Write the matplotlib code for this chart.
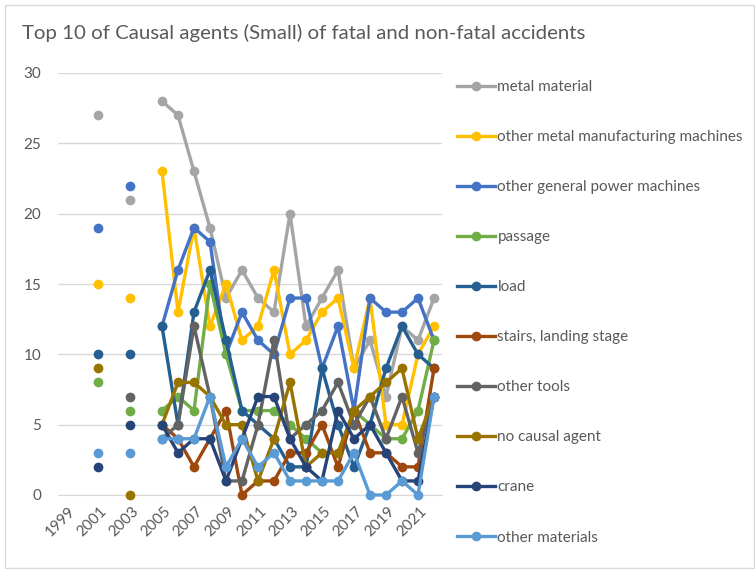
import numpy as np
import matplotlib
matplotlib.use("Agg")
import matplotlib.pyplot as plt
from matplotlib.patches import Rectangle
from matplotlib.transforms import ScaledTranslation

plt.rcParams['font.family'] = ['Lato', 'DejaVu Sans']

nan = np.nan
years = list(range(1999, 2023))
tick_years = list(range(1999, 2022, 2))

series_names = [
    "metal material",
    "other metal manufacturing machines",
    "other general power machines",
    "passage",
    "load",
    "stairs, landing stage",
    "other tools",
    "no causal agent",
    "crane",
    "other materials",
]
colors = ["#A5A5A5", "#FFC000", "#4472C4", "#70AD47", "#255E91",
          "#9E480E", "#636363", "#997300", "#264478", "#5B9BD5"]

#            1999 2000 2001 2002 2003 2004 2005 06 07 08 09 10 11 12 13 14 15 16 17 18 19 20 21 22
metal_material = [nan, nan, 27, nan, 21, nan, 28, 27, 23, 19, 14, 16, 14, 13, 20, 12, 14, 16, 9, 11, 7, 12, 11, 14]
other_metal_machines = [nan, nan, 15, nan, 14, nan, 23, 13, 19, 12, 15, 11, 12, 16, 10, 11, 13, 14, 9, 14, 5, 5, 10, 12]
other_power_machines = [nan, nan, 19, nan, 22, nan, 12, 16, 19, 18, 10, 13, 11, 10, 14, 14, 9, 12, 6, 14, 13, 13, 14, 11]
passage = [nan, nan, 8, nan, 6, nan, 6, 7, 6, 15, 10, 6, 6, 6, 5, 4, 3, 3, 6, 5, 4, 4, 6, 11]
load = [nan, nan, 10, nan, 10, nan, 12, 5, 13, 16, 11, 6, 5, 4, 2, 2, 9, 5, 2, 5, 9, 12, 10, 9]
stairs = [nan, nan, nan, nan, nan, nan, 5, 4, 2, 4, 6, 0, 1, 1, 3, 3, 5, 2, 6, 3, 3, 2, 2, 9]
other_tools = [nan, nan, nan, nan, 7, nan, 4, 5, 12, 7, 1, 1, 5, 11, 4, 5, 6, 8, 5, 7, 4, 7, 3, 7]
no_causal_agent = [nan, nan, 9, nan, 0, nan, 5, 8, 8, 7, 5, 5, 1, 4, 8, 2, 3, 3, 6, 7, 8, 9, 4, 7]
crane = [nan, nan, 2, nan, 5, nan, 5, 3, 4, 4, 1, 4, 7, 7, 4, 2, 1, 6, 4, 5, 3, 1, 1, 7]
other_materials = [nan, nan, 3, nan, 3, nan, 4, 4, 4, 7, 2, 4, 2, 3, 1, 1, 1, 1, 3, 0, 0, 1, 0, 7]

all_series = [metal_material, other_metal_machines, other_power_machines, passage, load,
              stairs, other_tools, no_causal_agent, crane, other_materials]

W, H = 755, 569
fig = plt.figure(figsize=(W / 100, H / 100), dpi=100)
fig.patch.set_facecolor("white")
fig.patches.append(Rectangle((5 / W, 1 / H), (W - 6) / W, (H - 6) / H, transform=fig.transFigure,
                             fill=False, edgecolor="#D9D9D9", linewidth=1))

ax = fig.add_axes([58 / W, 1 - 495 / H, (442 - 58) / W, (495 - 73) / H])
x = np.arange(len(years))
handles = []
for i, (name, vals, c) in enumerate(zip(series_names, all_series, colors)):
    h, = ax.plot(x, np.array(vals, dtype=float), color=c, lw=2.4, marker='o', markersize=7,
                 markeredgewidth=0, label=name, zorder=3 + i, clip_on=False)
    handles.append(h)

ax.set_xlim(-0.5, len(years) - 0.5)
ax.set_ylim(0, 30)
ax.set_yticks(range(0, 31, 5))
ax.set_xticks([years.index(y) for y in tick_years])
ax.set_xticklabels([str(y) for y in tick_years], rotation=45, ha='right', va='center',
                   rotation_mode='anchor')
ax.tick_params(axis='x', length=0, pad=10, labelsize=11, labelcolor="#595959")
ax.tick_params(axis='y', length=0, pad=12, labelsize=11, labelcolor="#595959")
offset = ScaledTranslation(7 / 100, 0, fig.dpi_scale_trans)
for lbl in ax.get_xticklabels():
    lbl.set_transform(lbl.get_transform() + offset)
ax.grid(axis='y', color="#D9D9D9", lw=1)
ax.set_axisbelow(True)
for s in ["top", "right", "left"]:
    ax.spines[s].set_visible(False)
ax.spines["bottom"].set_color("#D9D9D9")
ax.spines["bottom"].set_zorder(1)

fig.text(22 / W, 1 - 33 / H, "Top 10 of Causal agents (Small) of fatal and non-fatal accidents",
         fontsize=14.7, color="#595959", va='center', ha='left')

leg = fig.legend(handles=handles, loc='upper left', bbox_to_anchor=(457 / W, 1 - 80 / H),
                 frameon=False, fontsize=11, labelcolor="#595959", handlelength=2.5,
                 handletextpad=0.15, labelspacing=2.36, borderaxespad=0, borderpad=0)

fig.savefig("out.png", dpi=100)
